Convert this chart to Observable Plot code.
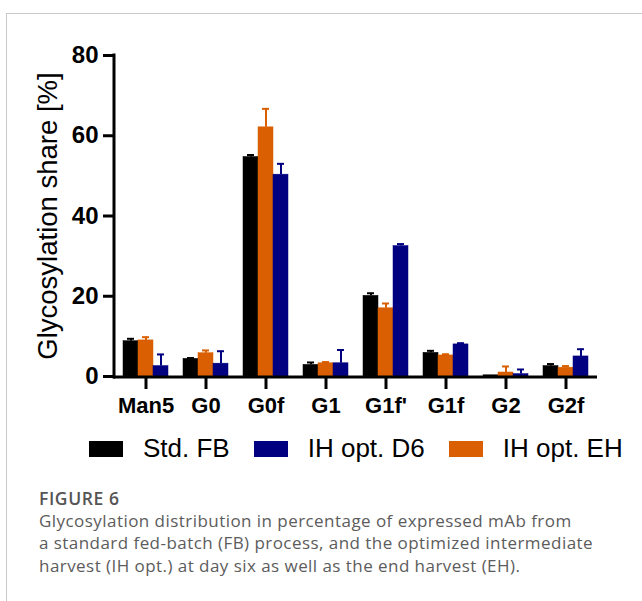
<!DOCTYPE html>
<html>
<head>
<meta charset="utf-8">
<script src="https://cdn.jsdelivr.net/npm/d3@7"></script>
<script src="https://cdn.jsdelivr.net/npm/@observablehq/plot@0.6"></script>
<style>
  html, body { margin: 0; padding: 0; background: #fff; }
  body { width: 642px; height: 601px; position: relative; overflow: hidden; font-family: Arial, "Liberation Sans", sans-serif; }
  #frame { position: absolute; left: 6px; top: 13px; width: 640px; height: 600px; border-left: 1.5px solid #c9c9c9; border-top: 1.5px solid #c9c9c9; }
  #chart { position: absolute; left: 0; top: 0; }
  #chart svg { font-family: Arial, "Liberation Sans", sans-serif; overflow: visible; }
  #chart [aria-label="y-axis tick label"] text { font-size: 24px; font-weight: bold; fill: #000; }
  #chart [aria-label="fx-axis tick label"] text { font-size: 22px; font-weight: bold; fill: #000; }
  #chart [aria-label="y-axis label"] text { font-size: 27.5px; font-weight: normal; fill: #000; }
  #legend { position: absolute; left: 89px; top: 433px; display: flex; align-items: center; font-size: 26px; color: #000; white-space: nowrap; width: max-content; }
  .item { display: flex; align-items: center; margin-right: 24px; }
  .sw { width: 34px; height: 16px; margin-right: 20px; }
  #caption { position: absolute; left: 39px; top: 487px; font-family: "Open Sans", sans-serif; font-size: 17px; letter-spacing: 0.45px; line-height: 22.7px; color: #5c5c5c; white-space: nowrap; }
  #caption .fig { font-weight: 600; color: #555; font-size: 17.5px; letter-spacing: 0.6px; }
</style>
</head>
<body>
<div id="frame"></div>
<div id="chart"></div>
<div id="legend"></div>
<div id="caption">
  <div class="fig">FIGURE 6</div>
  <div>Glycosylation distribution in percentage of expressed mAb from</div>
  <div>a standard fed-batch (FB) process, and the optimized intermediate</div>
  <div>harvest (IH opt.) at day six as well as the end harvest (EH).</div>
</div>
<script>
// ---- data ----
const groups = ["Man5", "G0", "G0f", "G1", "G1f'", "G1f", "G2", "G2f"];
const seriesOrder = ["Std. FB", "IH opt. EH", "IH opt. D6"];   // bar order within a group
const legendOrder = ["Std. FB", "IH opt. D6", "IH opt. EH"];
const seriesColors = ["#000000", "#d95f02", "#000080"];
const yTicks = [0, 20, 40, 60, 80];

const stdFB      = [8.8, 4.4, 54.7, 2.9, 20.1, 5.9, 0.3, 2.6];
const stdFBErr   = [0.6, 0.2, 0.5, 0.6, 0.65, 0.5, 0, 0.5];
const ihEH       = [9.0, 5.8, 62.1, 3.3, 17.0, 5.25, 1.0, 2.2];
const ihEHErr    = [0.8, 0.7, 4.6, 0.3, 1.2, 0.3, 1.5, 0.4];
const ihD6       = [2.6, 3.2, 50.3, 3.3, 32.5, 8.0, 0.6, 5.0];
const ihD6Err    = [2.9, 3.1, 2.7, 3.3, 0.5, 0.3, 1.15, 1.8];

const valuesBySeries = {"Std. FB": [stdFB, stdFBErr], "IH opt. EH": [ihEH, ihEHErr], "IH opt. D6": [ihD6, ihD6Err]};
const data = [];
groups.forEach((g, i) => {
  seriesOrder.forEach(s => {
    const [v, e] = valuesBySeries[s];
    data.push({group: g, series: s, value: v[i], err: e[i], top: v[i] + e[i]});
  });
});
const errData = data.filter(d => d.err > 0);

const chart = Plot.plot({
  width: 642,
  height: 425,
  marginTop: 55,
  marginBottom: 49,
  marginLeft: 115,
  marginRight: 47,
  fx: {domain: groups, paddingInner: 0.25, paddingOuter: 0.125, label: null},
  x: {domain: seriesOrder, padding: 0, axis: null},
  y: {domain: [0, 80]},
  color: {domain: seriesOrder, range: seriesColors},
  marks: [
    Plot.barY(data, {fx: "group", x: "series", y: "value", fill: "series", stroke: "series", strokeWidth: 0.5}),
    Plot.ruleX(errData, {fx: "group", x: "series", y1: "value", y2: "top", stroke: "series", strokeWidth: 2}),
    Plot.tickY(errData, {fx: "group", x: "series", y: "top", stroke: "series", strokeWidth: 2, insetLeft: 4, insetRight: 4}),
    Plot.axisY({ticks: yTicks, tickSize: 11, tickPadding: 5, strokeWidth: 3, dx: -9,
                label: "Glycosylation share [%]", labelAnchor: "center", labelArrow: "none", labelOffset: 86}),
    Plot.axisFx({anchor: "bottom", tickSize: 13, tickPadding: 8, strokeWidth: 3, label: null})
  ]
});
document.getElementById("chart").appendChild(chart);

// continuous axis lines, positioned from the library's scales
const fxS = chart.scale("fx"), yS = chart.scale("y");
const y0 = yS.apply(0), y80 = yS.apply(80);
const xl = fxS.range[0] - 2, xr = fxS.range[1] + 2;
const svg = d3.select(chart.tagName.toLowerCase() === "svg" ? chart : chart.querySelector("svg"));
svg.append("line").attr("x1", xl).attr("x2", xr).attr("y1", y0 + 1).attr("y2", y0 + 1)
   .attr("stroke", "#000").attr("stroke-width", 3);
svg.append("line").attr("x1", xl + 1).attr("x2", xl + 1).attr("y1", y80 - 1.5).attr("y2", y0 + 2.5)
   .attr("stroke", "#000").attr("stroke-width", 3);

// legend
const legend = document.getElementById("legend");
legendOrder.forEach(s => {
  const item = document.createElement("div");
  item.className = "item";
  const sw = document.createElement("div");
  sw.className = "sw";
  sw.style.background = seriesColors[seriesOrder.indexOf(s)];
  const t = document.createElement("span");
  t.textContent = s;
  item.appendChild(sw); item.appendChild(t);
  legend.appendChild(item);
});
</script>
</body>
</html>
